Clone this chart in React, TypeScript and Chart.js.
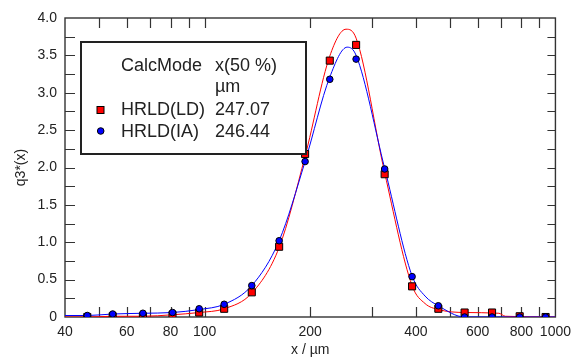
import React, { useEffect, useRef } from 'react';
import { Chart, registerables } from 'chart.js';

Chart.register(...registerables);

// ---- data ----
const sizes = [46.3, 54.7, 66.7, 81.0, 96.5, 113.7, 136.3, 163.1, 193.4, 227.4, 270.3, 326.0, 390.3, 463.7, 551.0, 659.7, 790.9, 937.6];
const ldValues = [0.0, 0.01, 0.01, 0.03, 0.06, 0.11, 0.33, 0.94, 2.18, 3.43, 3.64, 1.91, 0.41, 0.11, 0.06, 0.06, 0.01, 0.0];
const iaValues = [0.02, 0.04, 0.05, 0.06, 0.11, 0.17, 0.42, 1.02, 2.08, 3.18, 3.45, 1.98, 0.54, 0.15, 0.0, 0.0, 0.0, 0.0];

const ldCurveX = [40, 46.3, 54.7, 66.7, 81, 96.5, 113.7, 136.3, 163.1, 193.4, 227.4, 253, 270.3, 326, 390.3, 425, 463.7, 551, 690, 720, 1000];
const ldCurveY = [0.0, 0.0, 0.01, 0.01, 0.03, 0.06, 0.11, 0.32, 0.93, 2.15, 3.49, 3.85, 3.73, 1.93, 0.42, 0.18, 0.1, 0.06, 0.05, 0.01, 0.0];
const iaCurveX = [40, 46.3, 54.7, 66.7, 81, 96.5, 113.7, 136.3, 163.1, 193.4, 227.4, 255, 270.3, 326, 390.3, 425, 463.7, 551, 1000];
const iaCurveY = [0.02, 0.02, 0.04, 0.05, 0.06, 0.1, 0.17, 0.42, 1.02, 2.08, 3.21, 3.61, 3.5, 1.99, 0.55, 0.28, 0.15, 0.0, 0.0];

const xTickLabels = [40, 60, 80, 100, 200, 400, 600, 800, 1000];
const xTickMarks = [50, 60, 70, 80, 90, 100, 200, 300, 400, 500, 600, 700, 800, 900];
const yTickMarks = [0.25, 0.5, 0.75, 1, 1.25, 1.5, 1.75, 2, 2.25, 2.5, 2.75, 3, 3.25, 3.5, 3.75];

const legendHeader = ['CalcMode', 'x(50 %)', 'µm'];
const legendNames = ['HRLD(LD)', 'HRLD(IA)'];
const legendValues = ['247.07', '246.44'];

const RED = '#ff0000';
const BLUE = '#0000ff';
const FONT = '"Liberation Sans", Arial, sans-serif';

const framePlugin = {
  id: 'frameTicks',
  beforeDatasetsDraw(chart: any) {
    const { ctx, chartArea, scales } = chart;
    const { left, right, top, bottom } = chartArea;
    const x = scales.x;
    const y = scales.y;
    ctx.save();
    ctx.strokeStyle = '#333';
    ctx.lineWidth = 1.2;
    ctx.beginPath();
    for (const v of xTickMarks) {
      const px = Math.round(x.getPixelForValue(v)) + 0.5;
      ctx.moveTo(px, bottom);
      ctx.lineTo(px, bottom - 10);
      ctx.moveTo(px, top);
      ctx.lineTo(px, top + 10);
    }
    for (const v of yTickMarks) {
      const py = Math.round(y.getPixelForValue(v)) + 0.5;
      ctx.moveTo(left, py);
      ctx.lineTo(left + 10, py);
      ctx.moveTo(right, py);
      ctx.lineTo(right - 8, py);
    }
    ctx.stroke();
    ctx.lineWidth = 1.4;
    ctx.strokeRect(left, top, right - left, bottom - top);
    ctx.restore();
  },
  afterDraw(chart: any) {
    const { ctx } = chart;
    ctx.save();
    // legend box
    const bx = 81, by = 42, bw = 225, bh = 112;
    ctx.fillStyle = '#fff';
    ctx.fillRect(bx, by, bw, bh);
    ctx.strokeStyle = '#222';
    ctx.lineWidth = 2;
    ctx.strokeRect(bx, by, bw, bh);
    ctx.fillStyle = '#222';
    ctx.font = '18px ' + FONT;
    ctx.textAlign = 'left';
    ctx.textBaseline = 'alphabetic';
    ctx.fillText(legendHeader[0], 121, 71);
    ctx.fillText(legendHeader[1], 215, 71);
    ctx.fillText(legendHeader[2], 215, 92);
    ctx.fillText(legendNames[0], 121, 114.5);
    ctx.fillText(legendValues[0], 215, 114.5);
    ctx.fillText(legendNames[1], 121, 136.5);
    ctx.fillText(legendValues[1], 215, 136.5);
    // markers
    ctx.lineWidth = 1;
    ctx.strokeStyle = '#000';
    ctx.fillStyle = RED;
    ctx.fillRect(97, 106.5, 7, 7);
    ctx.strokeRect(97, 106.5, 7, 7);
    ctx.beginPath();
    ctx.arc(100.7, 131, 3.3, 0, Math.PI * 2);
    ctx.fillStyle = BLUE;
    ctx.fill();
    ctx.stroke();
    ctx.restore();
  },
};

export default function App() {
  const ref = useRef<HTMLCanvasElement | null>(null);

  useEffect(() => {
    if (!ref.current) return;
    Chart.defaults.font.family = FONT;
    const chart = new Chart(ref.current, {
      type: 'scatter',
      data: {
        datasets: [
          {
            label: 'IA points',
            data: sizes.map((s, i) => ({ x: s, y: iaValues[i] })),
            showLine: false,
            pointStyle: 'circle',
            pointRadius: 3.3,
            backgroundColor: BLUE,
            borderColor: '#000',
            pointBorderWidth: 1,
            order: 0,
          },
          {
            label: 'LD points',
            data: sizes.map((s, i) => ({ x: s, y: ldValues[i] })),
            showLine: false,
            pointStyle: 'rect',
            pointRadius: 5,
            backgroundColor: RED,
            borderColor: '#000',
            pointBorderWidth: 1,
            order: 1,
          },
          {
            label: 'IA curve',
            data: iaCurveX.map((s, i) => ({ x: s, y: iaCurveY[i] })),
            showLine: true,
            pointRadius: 0,
            borderColor: BLUE,
            borderWidth: 1,
            cubicInterpolationMode: 'monotone',
            order: 2,
          },
          {
            label: 'LD curve',
            data: ldCurveX.map((s, i) => ({ x: s, y: ldCurveY[i] })),
            showLine: true,
            pointRadius: 0,
            borderColor: RED,
            borderWidth: 1,
            cubicInterpolationMode: 'monotone',
            order: 3,
          },
        ],
      },
      options: {
        responsive: false,
        animation: false,
        devicePixelRatio: 1,
        events: [],
        layout: { padding: { top: 18, right: 16, left: 0, bottom: 0 } },
        plugins: {
          legend: { display: false },
          tooltip: { enabled: false },
        },
        scales: {
          x: {
            type: 'logarithmic',
            min: 40,
            max: 1000,
            grid: { display: false, drawTicks: false },
            border: { display: false },
            afterBuildTicks: (scale: any) => {
              scale.ticks = xTickLabels.map((v) => ({ value: v }));
            },
            afterFit: (scale: any) => {
              scale.height = 41;
            },
            ticks: {
              autoSkip: false,
              maxRotation: 0,
              padding: 7,
              color: '#222',
              font: { size: 14 },
              callback: (v: any) => String(v),
            },
            title: {
              display: true,
              text: 'x / µm',
              color: '#222',
              font: { size: 14 },
              padding: { top: 0, bottom: -1 },
            },
          },
          y: {
            min: 0,
            max: 4,
            grid: { display: false, drawTicks: false },
            border: { display: false },
            afterFit: (scale: any) => {
              scale.width = 65;
            },
            ticks: {
              stepSize: 0.5,
              padding: 8,
              color: '#222',
              font: { size: 14 },
              callback: (v: any) => (Number(v) === 0 ? '0' : Number(v).toFixed(1)),
            },
            title: {
              display: true,
              text: 'q3*(x)',
              color: '#222',
              font: { size: 14 },
              padding: { top: 12.6, bottom: 0 },
            },
          },
        },
      },
      plugins: [framePlugin],
    } as any);
    return () => chart.destroy();
  }, []);

  return (
    <div style={{ position: 'absolute', left: 0, top: 0, width: 578, height: 358, background: '#fff' }}>
      <canvas ref={ref} width={578} height={358} style={{ display: 'block' }} />
    </div>
  );
}
